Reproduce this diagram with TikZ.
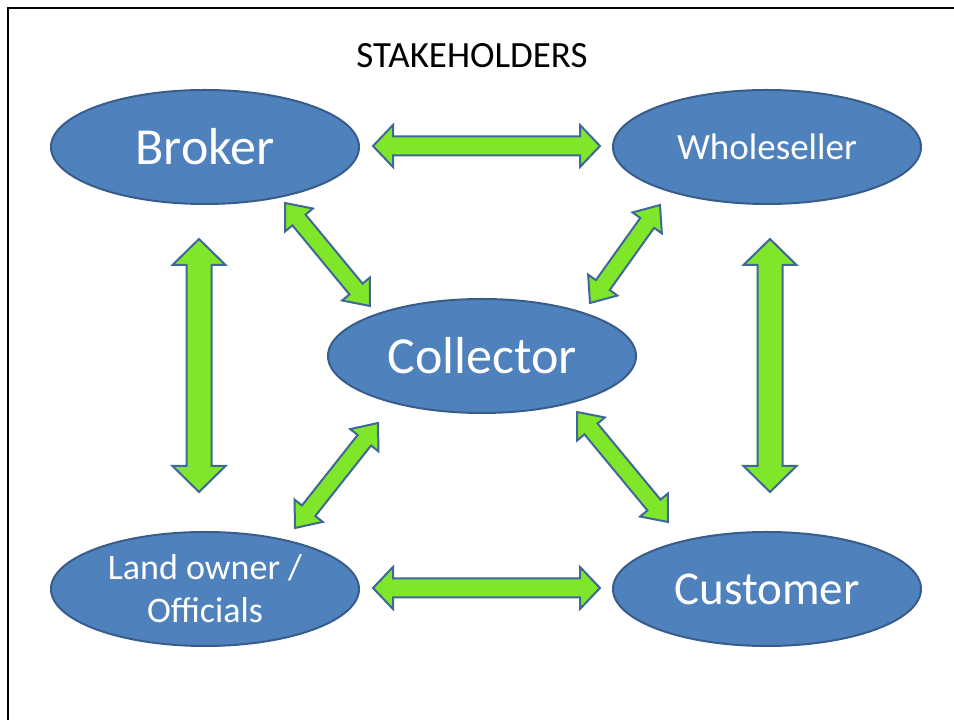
\documentclass[tikz,border=0pt]{standalone}
\usepackage{fontspec}
\setmainfont{Carlito}
\usetikzlibrary{shapes.geometric,calc}

\definecolor{shapeblue}{HTML}{4F81BD}
\definecolor{edgeblue}{HTML}{385D8A}
\definecolor{arrowgreen}{HTML}{80E62A}
\definecolor{arrowedge}{HTML}{3F6797}

\tikzset{
    stake/.style={ellipse, draw=edgeblue, line width=2pt, fill=shapeblue, text=white,
        minimum width=308pt, minimum height=114pt, inner sep=0pt, align=center},
    fatarrow/.style={draw=arrowedge, line width=2pt, fill=arrowgreen, line join=miter}
}

% fat two-headed arrow: from, to, half shaft, half head, head length
\newcommand{\twoway}[5]{%
    \draw[fatarrow] (#1)
        -- ($(#1)!#5!(#2)!#4!90:(#2)$)
        -- ($(#1)!#5!(#2)!#3!90:(#2)$)
        -- ($(#2)!#5!(#1)!#3!-90:(#1)$)
        -- ($(#2)!#5!(#1)!#4!-90:(#1)$)
        -- (#2)
        -- ($(#2)!#5!(#1)!#4!90:(#1)$)
        -- ($(#2)!#5!(#1)!#3!90:(#1)$)
        -- ($(#1)!#5!(#2)!#3!-90:(#2)$)
        -- ($(#1)!#5!(#2)!#4!-90:(#2)$)
        -- cycle;}

\begin{document}
\begin{tikzpicture}[x=1pt, y=1pt]
    \useasboundingbox (0,0) rectangle (954,720);
    \draw[line width=2.5pt] (8,0) -- (8,712) -- (954,712);

    \node[font=\fontsize{37}{44}\selectfont] (title) at (472,664.5) {STAKEHOLDERS};

    % Stakeholders
    \node[stake, font=\fontsize{52}{62}\selectfont] (broker) at (205,573) {Broker};
    \node[stake, font=\fontsize{37}{44}\selectfont] (whole) at (767,573) {Wholeseller};
    \node[stake, font=\fontsize{52}{62}\selectfont] (collector) at (482,364) {Collector};
    \node[stake, font=\fontsize{36}{43}\selectfont] (land) at (205,131) {Land owner /\\Officials};
    \node[stake, font=\fontsize{47}{56}\selectfont] (customer) at (767,131) {Customer};

    % Arrow ends
    \coordinate (bw1) at (373,574);
    \coordinate (bw2) at (600,574);
    \coordinate (lc1) at (373,132);
    \coordinate (lc2) at (600,132);
    \coordinate (bl1) at (199,481);
    \coordinate (bl2) at (199,228);
    \coordinate (wc1) at (770,481);
    \coordinate (wc2) at (770,228);
    \coordinate (bk1) at (285,517);
    \coordinate (bk2) at (370,414);
    \coordinate (wh1) at (660,515);
    \coordinate (wh2) at (590,417);
    \coordinate (ld1) at (295,192);
    \coordinate (ld2) at (378,297);
    \coordinate (cu1) at (577,308);
    \coordinate (cu2) at (668,198);

    \twoway{bw1}{bw2}{9.5pt}{21pt}{20pt}
    \twoway{lc1}{lc2}{9.5pt}{21pt}{20pt}
    \twoway{bl1}{bl2}{12.5pt}{26.5pt}{26pt}
    \twoway{wc1}{wc2}{12.5pt}{26.5pt}{26pt}
    \twoway{bk1}{bk2}{8.5pt}{18pt}{22pt}
    \twoway{wh1}{wh2}{8.5pt}{18pt}{22pt}
    \twoway{ld1}{ld2}{8.5pt}{18pt}{22pt}
    \twoway{cu1}{cu2}{8.5pt}{18pt}{22pt}
\end{tikzpicture}
\end{document}
